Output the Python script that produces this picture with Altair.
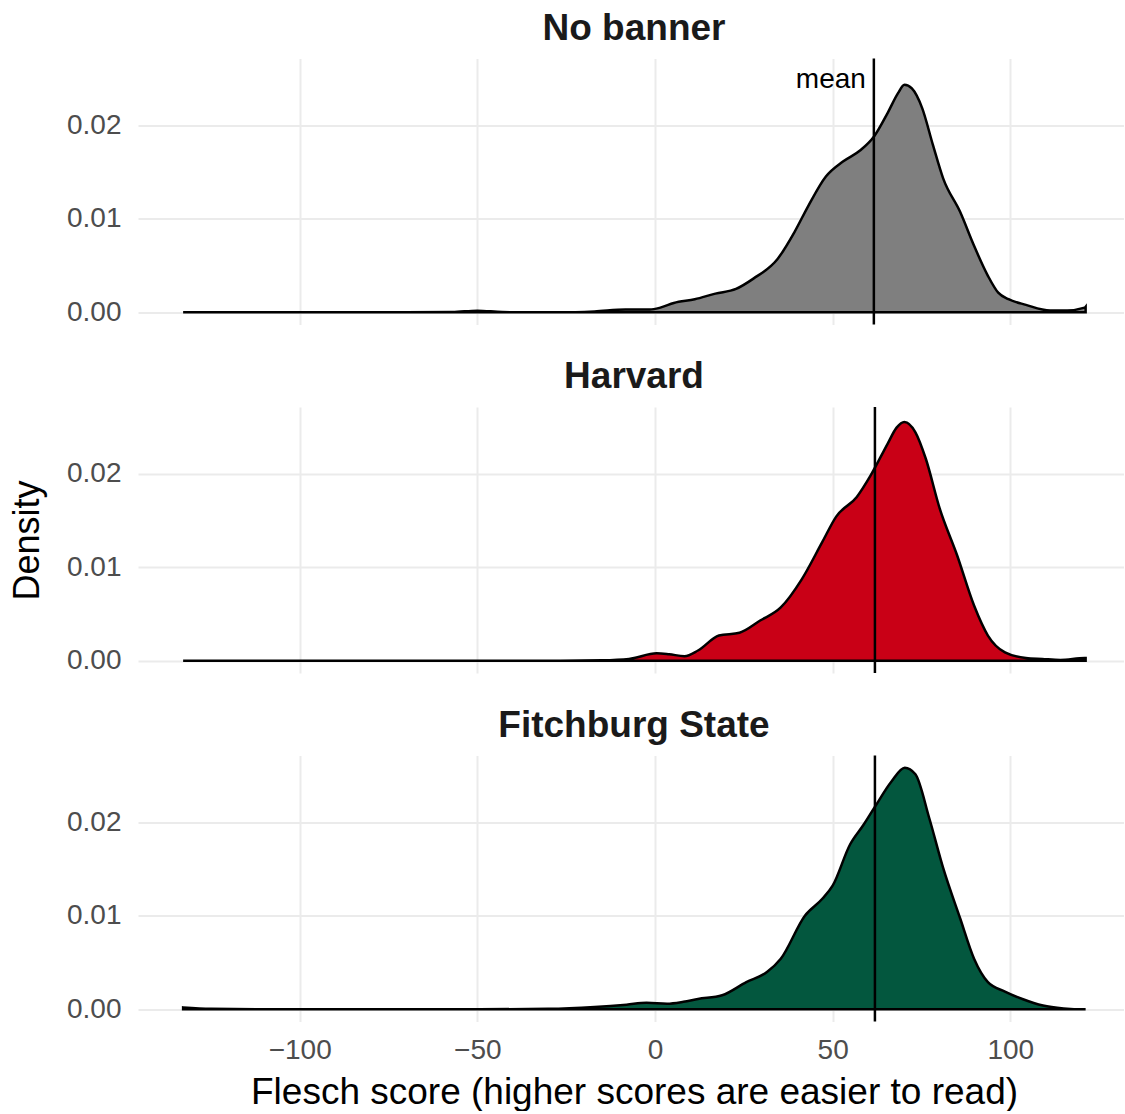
import altair as alt
import pandas as pd

# ---------------- data ----------------
panels = ["No banner", "Harvard", "Fitchburg State"]
fill_colors = ["#7F7F7F", "#C90016", "#03573E"]
means = [61.6, 61.9, 61.9]

nb_x = [-132.8, -110, -90, -70, -57, -50, -43, -35, -26.7, -17, -8.3, -1.5, 1.5, 5.3, 11.2, 17,
        22.8, 27.7, 34.5, 39.3, 43.2, 48.1, 52.9, 57.8, 61.7, 65.5, 68.4, 70.2, 72.3, 75.2,
        78.2, 81.1, 85.9, 89.8, 93.7, 96.6, 99.5, 104.4, 111.2, 116, 120.9, 121.2]
nb_d = [0, 0, 0, 0, 0.00003, 0.00018, 0.00003, 0, 0, 0.0001, 0.0003, 0.0003, 0.0005, 0.001, 0.0014, 0.002,
        0.0025, 0.0036, 0.0057, 0.0086, 0.0114, 0.0145, 0.0161, 0.0173, 0.0188, 0.0213, 0.0234, 0.0243, 0.0239, 0.0218,
        0.0179, 0.0143, 0.0107, 0.0071, 0.0039, 0.0021, 0.0014, 0.0008, 0.0002, 0.0002, 0.0005, 0.0006]

hv_x = [-132.8, -110, -80, -50, -26.7, -15, -7.3, 0.5, 4, 8.3, 12.1, 18, 23.8, 29.6, 35.4,
        41.3, 47.1, 51, 56.8, 60.7, 65.5, 68, 70.2, 73.3, 76.2, 80.1, 85, 89.8, 93.7,
        98.5, 104.4, 109, 114.1, 120.9, 121.2]
hv_d = [0, 0, 0, 0, 0, 0.00005, 0.0002, 0.0008, 0.0007, 0.0005, 0.0011, 0.0027, 0.003, 0.0043, 0.0057,
        0.0087, 0.0127, 0.0154, 0.0175, 0.0198, 0.0232, 0.0249, 0.0255, 0.0244, 0.0216, 0.0163, 0.0113, 0.0059, 0.0027,
        0.0009, 0.0003, 0.0002, 0.0001, 0.0003, 0.0003]

fs_x = [-132.8, -125, -110, -80, -50, -30, -17, -8, -2.4, 3.4, 8, 12.1, 18.9, 25.7, 31.6, 35.4,
        42.2, 47.1, 50, 54.9, 58.7, 61.7, 66.5, 70.3, 73.3, 77.2, 81.1, 85.9, 89.8, 93.7,
        98.5, 103.4, 109.2, 115, 120.9, 121.2]
fs_d = [0.0002, 0.00005, 0, 0, 0, 0.00005, 0.00025, 0.0005, 0.0007, 0.0006, 0.0008, 0.0011, 0.0015, 0.0029, 0.004, 0.0054,
        0.01, 0.0118, 0.0132, 0.0176, 0.0197, 0.0215, 0.0243, 0.0258, 0.0251, 0.0204, 0.0151, 0.0097, 0.0054, 0.0029,
        0.0019, 0.0011, 0.0004, 0.0001, 0, 0]

curves_x = [nb_x, hv_x, fs_x]
curves_d = [nb_d, hv_d, fs_d]

x_ticks = [-100, -50, 0, 50, 100]
y_ticks = [0, 0.01, 0.02]
x_dom = [-145.5, 132]
y_dom = [-0.0013, 0.0271]
mean_label = "mean"
mean_label_y = 0.0248

FONT = "Liberation Sans"
GRID = "#EBEBEB"
W, H = 986, 266

def panel(i):
    df = pd.DataFrame({"score": curves_x[i], "density": curves_d[i]})
    last = i == len(panels) - 1
    if last:
        xaxis = alt.Axis(values=x_ticks, grid=True, gridColor=GRID, gridWidth=2,
                         ticks=False, domain=False, labelFontSize=28, labelColor="#4D4D4D",
                         labelPadding=15, labelFont=FONT,
                         title="Flesch score (higher scores are easier to read)",
                         titleFontSize=37, titleFontWeight="normal", titleColor="black",
                         titleFont=FONT, titlePadding=10, titleX=W / 2 + 3)
    else:
        xaxis = alt.Axis(values=x_ticks, grid=True, gridColor=GRID, gridWidth=2,
                         ticks=False, domain=False, labels=False, title=None)
    yaxis = alt.Axis(values=y_ticks, format=".2f", grid=True, gridColor=GRID, gridWidth=2,
                     ticks=False, domain=False, labelFontSize=28, labelColor="#4D4D4D",
                     labelPadding=17, labelFont=FONT, title="Density", titleFontSize=36,
                     titleFontWeight="normal", titleColor="black", titleFont=FONT,
                     titlePadding=20, titleOpacity=1 if i == 1 else 0)
    xs = alt.Scale(domain=x_dom, nice=False, zero=False)
    ys = alt.Scale(domain=y_dom, nice=False, zero=False)
    area = alt.Chart(df).mark_area(
        color=fill_colors[i], stroke="black", strokeWidth=2.5, fillOpacity=1,
        interpolate="monotone", clip=True
    ).encode(
        x=alt.X("score:Q", scale=xs, axis=xaxis),
        y=alt.Y("density:Q", scale=ys, axis=yaxis),
        y2=alt.datum(0),
    )
    mdf = pd.DataFrame({"mean": [means[i]], "label": [mean_label], "ly": [mean_label_y]})
    rule = alt.Chart(mdf).mark_rule(color="black", strokeWidth=2.5).encode(x="mean:Q")
    layers = [area, rule]
    if i == 0:
        txt = alt.Chart(mdf).mark_text(
            align="right", baseline="middle", dx=-8, fontSize=28, font=FONT, color="black"
        ).encode(x="mean:Q", y="ly:Q", text="label:N")
        layers.append(txt)
    return alt.layer(*layers).properties(
        width=W, height=H,
        title=alt.TitleParams(panels[i], fontSize=37, fontWeight="bold", color="#1A1A1A",
                              font=FONT, anchor="middle", frame="group", offset=9.5, dx=3),
    )

chart = alt.vconcat(*[panel(i) for i in range(3)], spacing=31.5).properties(
    padding={"left": 9, "top": 9.5, "right": 0, "bottom": 0},
    background="white",
).configure_view(stroke=None)

chart.save("out.html", embed_options={"renderer": "svg", "actions": False})
